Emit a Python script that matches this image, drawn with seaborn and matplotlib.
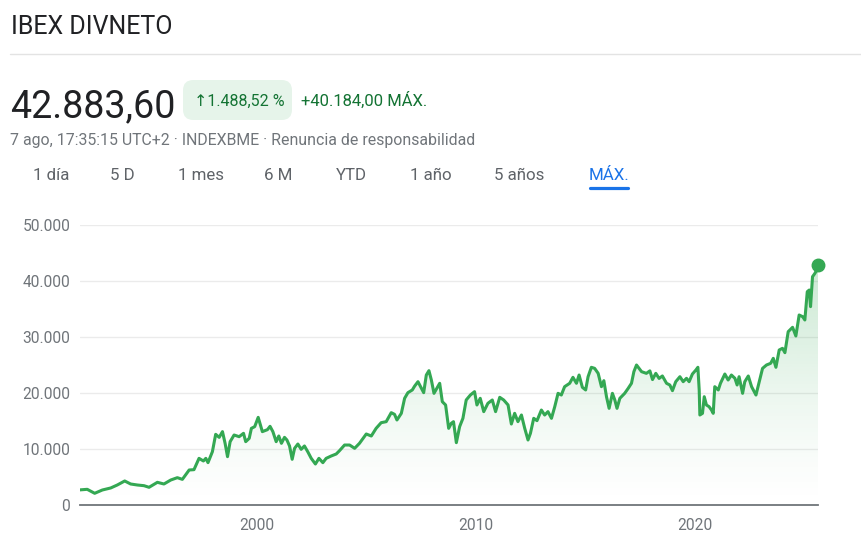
import numpy as np
import pandas as pd
import matplotlib
matplotlib.use("Agg")
import matplotlib.pyplot as plt
import seaborn as sns
from matplotlib.patches import FancyBboxPatch, Polygon
from matplotlib.lines import Line2D
from matplotlib.colors import to_rgb

# ---------------- data ----------------
years = [
    1991.95, 1992.28, 1992.62, 1992.97, 1993.35, 1993.65, 1993.99, 1994.26, 1994.57, 1994.87,
    1995.10, 1995.48, 1995.78, 1996.09, 1996.39, 1996.62, 1996.93, 1997.15, 1997.38, 1997.58,
    1997.69, 1997.79, 1997.99, 1998.14, 1998.30, 1998.45, 1998.57, 1998.68, 1998.80, 1998.98,
    1999.21, 1999.41, 1999.51, 1999.67, 1999.77, 1999.92, 2000.08, 2000.27, 2000.50, 2000.62,
    2000.75, 2000.90, 2001.02, 2001.14, 2001.28, 2001.39, 2001.51, 2001.63, 2001.74, 2001.89,
    2002.04, 2002.19, 2002.34, 2002.50, 2002.69, 2002.85, 2003.03, 2003.18, 2003.41, 2003.64,
    2003.79, 2004.02, 2004.25, 2004.48, 2004.70, 2005.01, 2005.24, 2005.46, 2005.69, 2005.92,
    2006.15, 2006.30, 2006.41, 2006.61, 2006.76, 2006.91, 2007.11, 2007.22, 2007.37, 2007.47,
    2007.63, 2007.75, 2007.87, 2007.98, 2008.10, 2008.23, 2008.36, 2008.48, 2008.63, 2008.77,
    2008.89, 2008.99, 2009.12, 2009.27, 2009.42, 2009.57, 2009.76, 2009.95, 2010.06, 2010.21,
    2010.37, 2010.56, 2010.76, 2010.91, 2011.10, 2011.28, 2011.48, 2011.63, 2011.78, 2011.93,
    2012.09, 2012.24, 2012.39, 2012.50, 2012.65, 2012.80, 2013.00, 2013.15, 2013.30, 2013.46,
    2013.61, 2013.76, 2013.91, 2014.06, 2014.29, 2014.44, 2014.60, 2014.72, 2014.87, 2015.02,
    2015.13, 2015.28, 2015.43, 2015.59, 2015.74, 2015.85, 2015.97, 2016.09, 2016.24, 2016.35,
    2016.45, 2016.58, 2016.80, 2016.96, 2017.11, 2017.22, 2017.34, 2017.57, 2017.79, 2017.95,
    2018.07, 2018.22, 2018.37, 2018.52, 2018.71, 2018.86, 2018.98, 2019.13, 2019.32, 2019.47,
    2019.62, 2019.74, 2019.89, 2020.05, 2020.14, 2020.20, 2020.23, 2020.35, 2020.43, 2020.53,
    2020.65, 2020.76, 2020.84, 2020.91, 2021.07, 2021.17, 2021.37, 2021.52, 2021.67, 2021.83,
    2021.93, 2022.02, 2022.18, 2022.28, 2022.44, 2022.59, 2022.79, 2022.94, 2023.09, 2023.27,
    2023.46, 2023.58, 2023.70, 2023.85, 2024.00, 2024.11, 2024.26, 2024.46, 2024.61, 2024.76,
    2024.92, 2025.02, 2025.13, 2025.22, 2025.28, 2025.37, 2025.48, 2025.56, 2025.62,
]
values = [
    2700, 2800, 2090, 2680, 3040, 3570, 4290, 3750, 3570, 3450,
    3160, 4050, 3750, 4460, 4880, 4580, 6250, 6310, 8330, 7860,
    8330, 7560, 9520, 12620, 12080, 13100, 11010, 8630, 11310, 12500,
    12200, 12800, 11310, 11900, 13690, 13990, 15650, 13100, 13450, 14050,
    13100, 11310, 12320, 11010, 12080, 11610, 10540, 8160, 10120, 10890,
    9940, 10540, 9520, 8330, 7320, 8330, 7560, 8330, 8750, 9110,
    9700, 10710, 10710, 10120, 11010, 12680, 12320, 13690, 14700, 14880,
    16490, 16190, 15180, 16370, 19050, 20060, 20540, 21250, 22020, 21250,
    20060, 23210, 23990, 22320, 19940, 20830, 21730, 18450, 17860, 13690,
    14590, 14880, 11130, 13990, 15480, 18750, 19640, 20240, 17860, 19050,
    16670, 18160, 18750, 16670, 19230, 18750, 17860, 14460, 16370, 14880,
    16070, 13690, 11610, 12800, 15480, 15060, 16960, 16070, 16670, 15480,
    17560, 19940, 19640, 21130, 21730, 22800, 21730, 23210, 21010, 20540,
    22910, 24590, 24400, 23510, 21130, 22200, 19340, 17260, 19940, 18750,
    17260, 19050, 19940, 20830, 21730, 23810, 25000, 23810, 23510, 23950,
    22400, 23510, 22600, 23040, 21730, 21430, 20420, 22020, 22910, 22020,
    22620, 22020, 23390, 24110, 24590, 20540, 16070, 16370, 19340, 17860,
    17560, 16960, 16370, 21130, 20540, 21730, 23390, 22320, 23210, 22620,
    21430, 22910, 19940, 22020, 23040, 21130, 19640, 22020, 24400, 25000,
    25300, 26190, 24590, 27680, 27980, 27200, 30950, 31730, 30180, 33930,
    33630, 33040, 38090, 38390, 35420, 40770, 41370, 41960, 42883.60,
]
y_ticks = [0, 10000, 20000, 30000, 40000, 50000]
y_tick_labels = ["0", "10.000", "20.000", "30.000", "40.000", "50.000"]
x_ticks = [2000, 2010, 2020]
x_tick_labels = ["2000", "2010", "2020"]

title = "IBEX DIVNETO"
price_text = "42.883,60"
change_pct = "\u21911.488,52 %"
change_abs = "+40.184,00 MÁX."
subtitle = "7 ago, 17:35:15 UTC+2 \u00b7 INDEXBME \u00b7 Renuncia de responsabilidad"
tabs = ["1 día", "5 D", "1 mes", "6 M", "YTD", "1 año", "5 años", "MÁX."]

# ---------------- style ----------------
GREEN = "#34a853"
DARK_GREEN = "#137333"
TEXT = "#202124"
GREY = "#70757a"
TAB_GREY = "#5f6368"
BLUE = "#1a73e8"

sns.set_theme(style="white")
plt.rcParams["font.family"] = ["Roboto", "DejaVu Sans"]

W, H = 861, 535
fig = plt.figure(figsize=(W / 100, H / 100), dpi=100)
fig.patch.set_facecolor("white")
renderer = fig.canvas.get_renderer()

# ---------------- chart ----------------
ax = fig.add_axes([80 / W, (H - 505) / H, 738 / W, 280 / H])
df = pd.DataFrame({"year": years, "value": values})

# gradient fill under the line
verts = [(years[0], 0)] + list(zip(years, values)) + [(years[-1], 0)]
poly = Polygon(verts, closed=True, facecolor="none", edgecolor="none")
ax.add_patch(poly)
frac = np.linspace(0, 1, 256).reshape(-1, 1)
rgba = np.zeros((256, 1, 4))
rgba[..., :3] = to_rgb(GREEN)
rgba[..., 3] = 0.26 * frac ** 1.3
im = ax.imshow(rgba, extent=[years[0], years[-1], 0, max(values)], origin="lower",
               aspect="auto", zorder=1, interpolation="bilinear")
im.set_clip_path(poly)

sns.lineplot(data=df, x="year", y="value", ax=ax, color=GREEN, linewidth=2.2,
             zorder=3, estimator=None)
ax.plot([years[-1]], [values[-1]], "o", color=GREEN, markersize=9, zorder=4, clip_on=False)

ax.set_xlim(years[0], years[-1])
ax.set_ylim(0, 50000)
ax.set_yticks(y_ticks)
ax.set_yticklabels(y_tick_labels)
ax.set_xticks(x_ticks)
ax.set_xticklabels(x_tick_labels)
ax.set_xlabel("")
ax.set_ylabel("")
ax.yaxis.grid(True, color="#ebebeb", linewidth=1.0, zorder=0)
ax.xaxis.grid(False)
for side in ["top", "right", "left"]:
    ax.spines[side].set_visible(False)
ax.spines["bottom"].set_color(GREY)
ax.spines["bottom"].set_linewidth(1.3)
ax.spines["bottom"].set_zorder(5)
ax.tick_params(axis="y", length=0, pad=7, labelsize=11.2, labelcolor=GREY)
ax.tick_params(axis="x", length=5, width=1.5, color=TAB_GREY, direction="out",
               pad=4, labelsize=11.2, labelcolor=GREY)
ax.set_facecolor("white")


# ---------------- header ----------------
def fy(y):
    return 1 - y / H


def put(x, y, s, color, target_w, size=12, cap_px=None, w_weight=0.7):
    t = fig.text(x / W, fy(y), s, fontsize=size, color=color, ha="left", va="baseline")
    w = t.get_window_extent(renderer).width
    s_w = size * target_w / w
    if cap_px is None:
        t.set_fontsize(s_w)
    else:
        s_h = cap_px / 0.711 * 0.72
        t.set_fontsize(s_w ** w_weight * s_h ** (1 - w_weight))
    return t


put(11, 34.3, title, TEXT, 149, size=22, cap_px=21.6)
fig.add_artist(Line2D([10 / W, 1.0], [fy(54), fy(54)], color="#e3e3e3", linewidth=1.0))

put(10, 117.3, price_text, TEXT, 155, size=30, cap_px=31)

badge = FancyBboxPatch((183 / W, fy(120)), 109 / W, 40 / H,
                       boxstyle="round,pad=0,rounding_size=0.012",
                       transform=fig.transFigure, facecolor="#e6f4ea", edgecolor="none",
                       mutation_aspect=W / H)
fig.add_artist(badge)
put(194, 106, change_pct, DARK_GREEN, 90, size=13)
put(301, 106, change_abs, DARK_GREEN, 127, size=13)

put(10, 145.3, subtitle, GREY, 463, size=11)

tab_centers = [51, 122.5, 200.5, 278.5, 351.5, 431, 519, 609.5]
for label, cx in zip(tabs, tab_centers):
    col = BLUE if label == "MÁX." else TAB_GREY
    fig.text(cx / W, fy(180), label, fontsize=12.2, color=col, ha="center", va="baseline")
fig.add_artist(Line2D([590 / W, 628 / W], [fy(187.5), fy(187.5)], color=BLUE,
                      linewidth=2.3, solid_capstyle="round"))

fig.savefig("out.png", dpi=100, facecolor="white")
